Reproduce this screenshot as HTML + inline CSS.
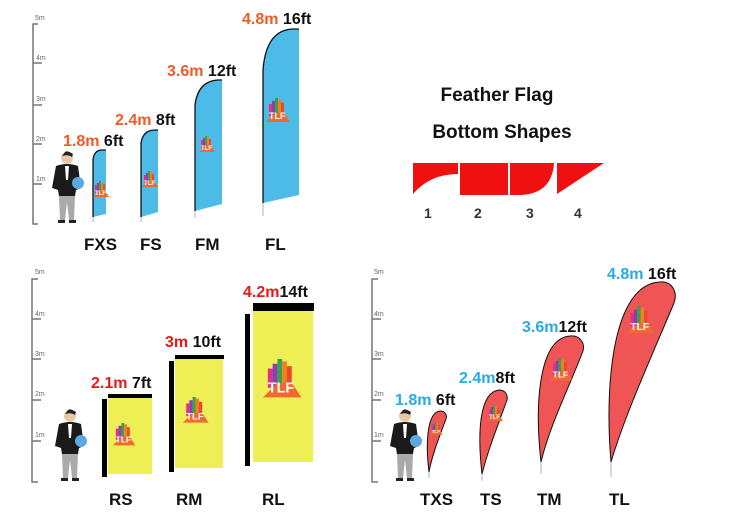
<!DOCTYPE html>
<html><head><meta charset="utf-8"><style>
html,body{margin:0;padding:0;background:#fff;}
svg{display:block;}
text{font-family:"Liberation Sans",Arial,sans-serif;}
.lb{font-weight:bold;font-size:17px;fill:#111;}
.sz{font-weight:bold;font-size:16px;}
.rt{font-size:7px;fill:#666;}
</style></head><body>
<svg width="750" height="524" viewBox="0 0 750 524" xmlns="http://www.w3.org/2000/svg">
<defs>
<g id="man">
  <circle cx="17" cy="8" r="6" fill="#e8c8a8"/>
  <path d="M15 2 Q17 0 23 4 L22 7 Q18 4 12 6Z" fill="#222"/>
  <path d="M6 16 Q17 12 28 16 L31 38 L26 40 L25 46 L9 46 L8 40 L2 38 Z" fill="#1a1a1a"/>
  <path d="M15 16 L19 16 L18 30 L16 30Z" fill="#fff"/>
  <circle cx="28" cy="33" r="6" fill="#5aa9e0"/>
  <path d="M9 46 L25 46 L24 70 L19 70 L17 52 L15 70 L10 70Z" fill="#aaa"/>
  <rect x="8" y="70" width="7" height="3" fill="#222"/><rect x="19" y="70" width="7" height="3" fill="#222"/>
</g>
<g id="logo">
  <rect x="2" y="4" width="2" height="8" fill="#e0308a"/>
  <rect x="4" y="2" width="2" height="10" fill="#8b3fb0"/>
  <rect x="6" y="0" width="2" height="12" fill="#3aa04a"/>
  <rect x="8" y="1" width="2" height="11" fill="#f08020"/>
  <rect x="10" y="3" width="2" height="9" fill="#e84a2a"/>
  <path d="M0 16 L6 10 L12 10 L16 16Z" fill="#f06a30"/>
  <text x="2" y="14" font-size="6" font-weight="bold" fill="#fff">TLF</text>
</g>
</defs>

<!-- ===== TOP LEFT: feather ===== -->
<g stroke="#777" stroke-width="1.5" fill="none">
  <path d="M38 24 L33 24 L33 224 L38 224"/>
  <path d="M33 63 L42 63 M33 105 L42 105 M33 144 L42 144 M33 184 L42 184"/>
</g>
<g class="rt"><text x="35" y="20">5m</text><text x="36" y="60">4m</text><text x="36" y="101">3m</text><text x="36" y="141">2m</text><text x="36" y="181">1m</text></g>
<use href="#man" x="50" y="150"/>
<g fill="#4cbbe8" stroke="#111" stroke-width="0">
  <path d="M93 217 L93 160 Q94 150 102 150 L106 150 L106 214Z"/>
  <path d="M141 217 L141 143 Q143 130 155 130 L158 130 L158 212Z"/>
  <path d="M195 211 L195 105 Q198 81 218 80 L222 80 L222 204Z"/>
  <path d="M263 203 L263 70 Q266 30 293 29 L299 29 L299 195Z"/>
</g>
<g stroke="#111" stroke-width="1.3" fill="none">
  <path d="M93 217 L93 160 Q94 150 102 150 L106 150"/>
  <path d="M141 217 L141 143 Q143 130 155 130 L158 130"/>
  <path d="M195 211 L195 105 Q198 81 218 80 L222 80"/>
  <path d="M263 203 L263 70 Q266 30 293 29 L299 29"/>
</g>
<g stroke="#ccc" stroke-width="1.5"><path d="M93 217V222M141 217V222M195 211V218M263 203V216"/></g>
<use href="#logo" x="93" y="181" transform="translate(0,0)"/>
<use href="#logo" x="142" y="171"/>
<use href="#logo" x="199" y="136"/>
<use href="#logo" x="268" y="98" transform="translate(-136,-49) scale(1.5)"/>
<g class="sz">
  <text x="63" y="146"><tspan fill="#f05a28">1.8m</tspan><tspan fill="#111"> 6ft</tspan></text>
  <text x="115" y="125"><tspan fill="#f05a28">2.4m</tspan><tspan fill="#111"> 8ft</tspan></text>
  <text x="167" y="76"><tspan fill="#f05a28">3.6m</tspan><tspan fill="#111"> 12ft</tspan></text>
  <text x="242" y="24"><tspan fill="#f05a28">4.8m</tspan><tspan fill="#111"> 16ft</tspan></text>
</g>
<g class="lb"><text x="84" y="250">FXS</text><text x="140" y="250">FS</text><text x="195" y="250">FM</text><text x="265" y="250">FL</text></g>

<!-- ===== Shapes ===== -->
<text x="497" y="101" text-anchor="middle" font-size="19" font-weight="bold" fill="#111">Feather Flag</text>
<text x="502" y="138" text-anchor="middle" font-size="19" font-weight="bold" fill="#111">Bottom Shapes</text>
<g fill="#f01010">
  <path d="M413 163 L458 163 L458 174 Q430 174 413 194Z"/>
  <rect x="460" y="163" width="48" height="32"/>
  <path d="M510 163 L554 163 Q552 194 520 195 L510 195Z"/>
  <path d="M557 163 L604 163 L557 194Z"/>
</g>
<g font-size="14" font-weight="bold" fill="#333"><text x="424" y="218">1</text><text x="474" y="218">2</text><text x="526" y="218">3</text><text x="574" y="218">4</text></g>

<!-- ===== BOTTOM LEFT: rectangle ===== -->
<g stroke="#777" stroke-width="1.5" fill="none">
  <path d="M38 279 L32 279 L32 482 L38 482"/>
  <path d="M32 319 L41 319 M32 359 L41 359 M32 400 L41 400 M32 441 L41 441"/>
</g>
<g class="rt"><text x="35" y="274">5m</text><text x="35" y="316">4m</text><text x="35" y="356">3m</text><text x="35" y="396">2m</text><text x="35" y="437">1m</text></g>
<use href="#man" x="53" y="408"/>
<g fill="#eeee55">
  <rect x="108" y="397" width="44" height="77"/>
  <rect x="175" y="358" width="48" height="110"/>
  <rect x="253" y="311" width="60" height="151"/>
</g>
<g fill="#000">
  <rect x="102" y="399" width="5" height="78"/><rect x="108" y="394" width="44" height="4"/>
  <rect x="169" y="361" width="5" height="111"/><rect x="175" y="355" width="49" height="4"/>
  <rect x="245" y="314" width="5" height="152"/><rect x="253" y="303" width="61" height="8"/>
</g>
<use href="#logo" x="0" y="0" transform="translate(113,423) scale(1.4)"/>
<use href="#logo" x="0" y="0" transform="translate(183,397) scale(1.6)"/>
<use href="#logo" x="0" y="0" transform="translate(263,359) scale(2.4)"/>
<g class="sz">
  <text x="91" y="388"><tspan fill="#e81818">2.1m</tspan><tspan fill="#111"> 7ft</tspan></text>
  <text x="165" y="347"><tspan fill="#e81818">3m</tspan><tspan fill="#111"> 10ft</tspan></text>
  <text x="243" y="297"><tspan fill="#e81818">4.2m</tspan><tspan fill="#111">14ft</tspan></text>
</g>
<g class="lb"><text x="109" y="505">RS</text><text x="176" y="505">RM</text><text x="262" y="505">RL</text></g>

<!-- ===== BOTTOM RIGHT: teardrop ===== -->
<g stroke="#777" stroke-width="1.5" fill="none">
  <path d="M378 279 L372 279 L372 482 L378 482"/>
  <path d="M372 319 L381 319 M372 359 L381 359 M372 400 L381 400 M372 441 L381 441"/>
</g>
<g class="rt"><text x="374" y="274">5m</text><text x="374" y="316">4m</text><text x="374" y="356">3m</text><text x="374" y="396">2m</text><text x="374" y="437">1m</text></g>
<use href="#man" x="388" y="408"/>
<g fill="#f05555" stroke="#111" stroke-width="1">
  <path d="M429 472 C425 440 428 412 440 411 C446 411 447 416 446 419 C440 435 432 455 429 472Z"/>
  <path d="M482 474 C477 430 480 392 499 390 C506 390 508 396 507 400 C498 425 488 450 482 474Z"/>
  <path d="M541 462 C534 400 540 338 570 336 C580 335 585 343 583 351 C568 390 550 425 541 462Z"/>
  <path d="M611 462 C604 380 614 284 660 282 C672 281 678 292 674 303 C650 360 625 415 611 462Z"/>
</g>
<g stroke="#ccc" stroke-width="1.5"><path d="M429 472V478M482 474V481M541 462V474M611 462V477"/></g>
<use href="#logo" x="0" y="0" transform="translate(430,422) scale(0.8)"/>
<use href="#logo" x="0" y="0" transform="translate(487,405)"/>
<use href="#logo" x="0" y="0" transform="translate(550,358) scale(1.4)"/>
<use href="#logo" x="0" y="0" transform="translate(627,306) scale(1.7)"/>
<g class="sz">
  <text x="395" y="405"><tspan fill="#29abe2">1.8m</tspan><tspan fill="#111"> 6ft</tspan></text>
  <text x="459" y="383"><tspan fill="#29abe2">2.4m</tspan><tspan fill="#111">8ft</tspan></text>
  <text x="522" y="332"><tspan fill="#29abe2">3.6m</tspan><tspan fill="#111">12ft</tspan></text>
  <text x="607" y="279"><tspan fill="#29abe2">4.8m</tspan><tspan fill="#111"> 16ft</tspan></text>
</g>
<g class="lb"><text x="420" y="505">TXS</text><text x="480" y="505">TS</text><text x="537" y="505">TM</text><text x="609" y="505">TL</text></g>
</svg>
</body></html>
